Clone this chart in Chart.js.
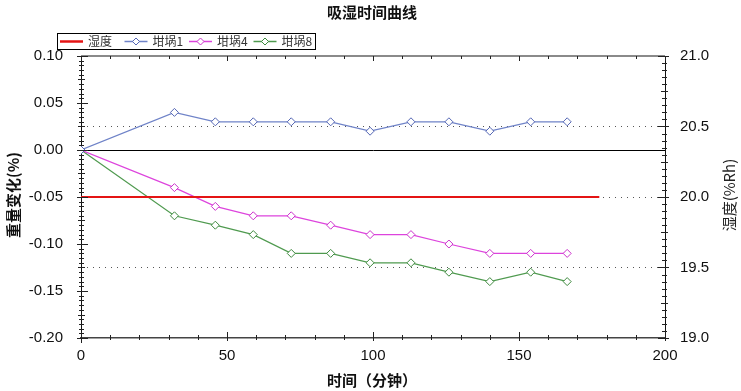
<!DOCTYPE html>
<html>
<head>
<meta charset="utf-8">
<title>吸湿时间曲线</title>
<script src="https://cdn.jsdelivr.net/npm/chart.js@4.4.0/dist/chart.umd.min.js"></script>
<style>
html, body { margin: 0; padding: 0; background: #fff; }
canvas { display: block; }
</style>
</head>
<body>
<canvas id="chart" width="741" height="391"></canvas>
<script>
'use strict';
// sample times (min) and weight changes (%)
var times = [0, 32, 46, 59, 72, 85.5, 99, 113, 126, 140, 154, 166.5];
var crucible1 = [0, 0.04, 0.03, 0.03, 0.03, 0.03, 0.02, 0.03, 0.03, 0.02, 0.03, 0.03];
var crucible4 = [0, -0.04, -0.06, -0.07, -0.07, -0.08, -0.09, -0.09, -0.10, -0.11, -0.11, -0.11];
var crucible8 = [0, -0.07, -0.08, -0.09, -0.11, -0.11, -0.12, -0.12, -0.13, -0.14, -0.13, -0.14];
// humidity (%Rh)
var humidityTimes = [0, 177.5];
var humidityValues = [20.0, 20.0];

var seriesLabels = ['湿度', '坩埚1', '坩埚4', '坩埚8'];
var chartTitle = '吸湿时间曲线';
var xTitle = '时间（分钟）';
var yTitle = '重量变化(%)';
var y2Title = '湿度(%Rh)';

function toPoints(xs, ys) {
    return xs.map(function (x, i) { return { x: x, y: ys[i] }; });
}

var cjk = '"Noto Sans CJK SC", "Noto Sans", sans-serif';
var latin = '"Liberation Sans", Arial, sans-serif';

// draws frame, minor ticks, titles and the boxed legend
var decorations = {
    id: 'decorations',
    afterDraw: function (chart) {
        var ctx = chart.ctx;
        var area = chart.chartArea;
        var x = chart.scales.x, y = chart.scales.y, y2 = chart.scales.y2;
        var v, p, len;
        ctx.save();

        // top border
        ctx.strokeStyle = '#8a8a8a';
        ctx.lineWidth = 2;
        ctx.beginPath();
        ctx.moveTo(area.left, area.top);
        ctx.lineTo(area.right, area.top);
        ctx.stroke();

        // right border, solid
        ctx.strokeStyle = '#111';
        ctx.lineWidth = 1;
        ctx.beginPath();
        ctx.moveTo(Math.round(area.right) + 0.5, area.top);
        ctx.lineTo(Math.round(area.right) + 0.5, area.bottom);
        ctx.stroke();

        ctx.strokeStyle = '#222';
        ctx.lineWidth = 1;
        ctx.beginPath();
        // x ticks bottom and top
        for (v = 0; v <= 200; v += 10) {
            p = Math.round(x.getPixelForValue(v)) + 0.5;
            len = (v % 50 === 0) ? 6 : 3;
            ctx.moveTo(p, area.bottom - len);
            ctx.lineTo(p, area.bottom + (v % 50 === 0 ? 3 : 2));
            ctx.moveTo(p, area.top);
            ctx.lineTo(p, area.top + ((v % 50 === 0) ? 5 : 3));
        }
        // left ticks
        for (v = -0.2; v <= 0.1001; v += 0.005) {
            var r = Math.round(v * 1000);
            p = Math.round(y.getPixelForValue(v)) + 0.5;
            if (r % 50 === 0) {
                ctx.moveTo(area.left - 4, p); ctx.lineTo(area.left + 7, p);
            } else if (r % 25 === 0) {
                ctx.moveTo(area.left - 3, p); ctx.lineTo(area.left + 4, p);
            } else {
                ctx.moveTo(area.left - 2, p); ctx.lineTo(area.left + 3, p);
            }
        }
        // right ticks
        for (v = 19; v <= 21.001; v += 0.05) {
            var q = Math.round(v * 100);
            p = Math.round(y2.getPixelForValue(v)) + 0.5;
            if (q % 50 === 0) {
                ctx.moveTo(area.right - 7, p); ctx.lineTo(area.right + 4, p);
            } else if (q % 25 === 0) {
                ctx.moveTo(area.right - 4, p); ctx.lineTo(area.right + 3, p);
            } else {
                ctx.moveTo(area.right - 3, p); ctx.lineTo(area.right + 2, p);
            }
        }
        // left axis runs a little past the bottom
        ctx.moveTo(Math.round(area.left) + 0.5, area.bottom);
        ctx.lineTo(Math.round(area.left) + 0.5, area.bottom + 5);
        ctx.stroke();

        // chart title
        ctx.fillStyle = '#111';
        ctx.textAlign = 'center';
        ctx.textBaseline = 'middle';
        ctx.font = 'bold 15px ' + cjk;
        ctx.fillText(chartTitle, 372, 12);

        // axis titles
        ctx.font = 'bold 15px ' + cjk;
        ctx.fillText(xTitle, 372, 380);
        ctx.save();
        ctx.translate(13, 195);
        ctx.rotate(-Math.PI / 2);
        ctx.fillText(yTitle, 0, 0);
        ctx.restore();
        ctx.save();
        ctx.translate(729, 195);
        ctx.rotate(-Math.PI / 2);
        ctx.font = '15px ' + cjk;
        ctx.fillStyle = '#222';
        ctx.fillText(y2Title, 0, 0);
        ctx.restore();

        // legend
        var boxLeft = 57, boxTop = 33, boxRight = 315, boxBottom = 49;
        ctx.fillStyle = '#fff';
        ctx.fillRect(boxLeft, boxTop, boxRight - boxLeft, boxBottom - boxTop);
        ctx.strokeStyle = '#000';
        ctx.lineWidth = 1;
        ctx.strokeRect(boxLeft + 0.5, boxTop + 0.5, boxRight - boxLeft, boxBottom - boxTop);
        var cy = (boxTop + boxBottom) / 2 + 0.5;
        var itemWidth = 64.5;
        chart.data.datasets.forEach(function (ds, i) {
            var sx = 60 + i * itemWidth;
            ctx.strokeStyle = ds.borderColor;
            ctx.lineWidth = ds.legendWidth;
            ctx.beginPath();
            ctx.moveTo(sx, cy);
            ctx.lineTo(sx + 23, cy);
            ctx.stroke();
            if (ds.pointRadius > 0) {
                var mx = sx + 11.5, r = 3.5;
                ctx.fillStyle = '#fff';
                ctx.strokeStyle = ds.pointBorderColor;
                ctx.lineWidth = 1;
                ctx.beginPath();
                ctx.moveTo(mx, cy - r); ctx.lineTo(mx + r, cy);
                ctx.lineTo(mx, cy + r); ctx.lineTo(mx - r, cy);
                ctx.closePath();
                ctx.fill();
                ctx.stroke();
            }
            ctx.fillStyle = '#333';
            ctx.textAlign = 'left';
            ctx.font = '12px ' + cjk;
            ctx.fillText(ds.label, sx + 28, cy);
        });
        ctx.restore();
    }
};

var background = {
    id: 'background',
    beforeDraw: function (chart) {
        var ctx = chart.ctx;
        ctx.save();
        ctx.fillStyle = '#fff';
        ctx.fillRect(0, 0, chart.width, chart.height);
        ctx.restore();
    }
};

function lineSet(label, data, color, markColor, axis) {
    return {
        label: label,
        data: data,
        yAxisID: axis,
        borderColor: color,
        borderWidth: 1.2,
        legendWidth: 1.5,
        pointStyle: 'rectRot',
        pointRadius: 4,
        pointBorderWidth: 1,
        pointBorderColor: markColor,
        pointBackgroundColor: '#fff',
        tension: 0
    };
}

var datasets = [
    {
        label: seriesLabels[0],
        data: toPoints(humidityTimes, humidityValues),
        yAxisID: 'y2',
        borderColor: '#e41414',
        borderWidth: 2,
        legendWidth: 2.5,
        pointRadius: 0,
        tension: 0
    },
    lineSet(seriesLabels[1], toPoints(times, crucible1), '#6f83c8', '#5567b5', 'y'),
    lineSet(seriesLabels[2], toPoints(times, crucible4), '#dd44dd', '#cc33cc', 'y'),
    lineSet(seriesLabels[3], toPoints(times, crucible8), '#4f9a4f', '#3f8a3f', 'y')
];

var tickFont = { family: latin, size: 15 };

var chart = new Chart(document.getElementById('chart').getContext('2d'), {
    type: 'line',
    data: { datasets: datasets },
    plugins: [background, decorations],
    options: {
        responsive: false,
        animation: false,
        layout: { padding: { top: 56, left: 0, right: 0, bottom: 0 } },
        plugins: {
            legend: { display: false },
            title: { display: false },
            tooltip: { enabled: false }
        },
        scales: {
            x: {
                type: 'linear',
                min: 0,
                max: 200,
                afterFit: function (scale) { scale.height = 53; },
                ticks: { stepSize: 50, padding: 9, color: '#111', font: tickFont, maxRotation: 0 },
                grid: { display: false, drawTicks: false },
                border: { display: true, color: '#444', width: 1.5 }
            },
            y: {
                position: 'left',
                min: -0.2,
                max: 0.1,
                afterFit: function (scale) { scale.width = 81; },
                ticks: {
                    stepSize: 0.05,
                    padding: 18,
                    color: '#111',
                    font: tickFont,
                    callback: function (v) { return v.toFixed(2); }
                },
                grid: {
                    drawTicks: false,
                    color: function (c) { return (c.tick && Math.abs(c.tick.value) < 1e-9) ? '#000' : 'rgba(0,0,0,0)'; },
                    lineWidth: 1
                },
                border: { display: true, color: '#111', width: 1 }
            },
            y2: {
                position: 'right',
                min: 19,
                max: 21,
                afterFit: function (scale) { scale.width = 76; },
                ticks: {
                    stepSize: 0.5,
                    padding: 15,
                    color: '#111',
                    font: tickFont,
                    callback: function (v) { return v.toFixed(1); }
                },
                grid: {
                    drawTicks: false,
                    color: function (c) {
                        var v = c.tick ? c.tick.value : 0;
                        return (v > 19.1 && v < 20.9) ? '#555' : 'rgba(0,0,0,0)';
                    },
                    lineWidth: 1
                },
                border: { display: false, dash: [1, 5] }
            }
        }
    }
});
</script>
</body>
</html>
